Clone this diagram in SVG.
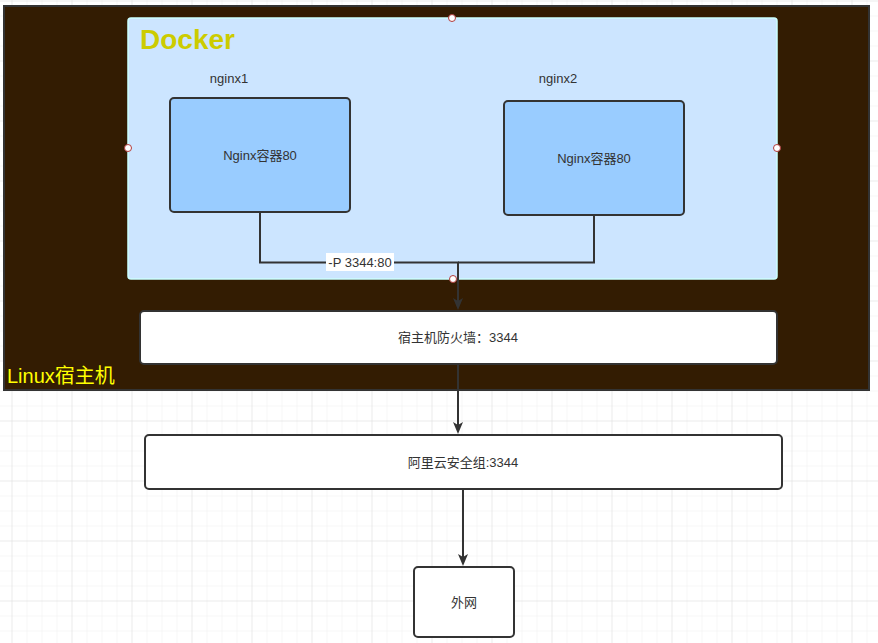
<svg xmlns="http://www.w3.org/2000/svg" width="878" height="643" viewBox="0 0 878 643">
<style>
.t{font-family:"Liberation Sans","Noto Sans CJK SC",sans-serif;font-size:13px;fill:#333333;text-anchor:middle}
.box{stroke:#333333;stroke-width:2}
.conn{fill:none;stroke:#333333;stroke-width:2}
.handle{fill:#ffffff;stroke:#b03a3a;stroke-width:1}
</style>
<defs>
<pattern id="minor" x="11.5" y="0.5" width="15" height="15" patternUnits="userSpaceOnUse">
<path d="M0,0 V15 M0,0 H15" fill="none" stroke="#efefef" stroke-width="1"/>
</pattern>
<pattern id="major" x="11.5" y="0.5" width="60" height="60" patternUnits="userSpaceOnUse">
<path d="M0,0 V60 M0,0 H60" fill="none" stroke="#e2e2e2" stroke-width="1"/>
</pattern>
<marker id="arrow" viewBox="0 0 12 10" refX="9" refY="5" markerWidth="12" markerHeight="10" markerUnits="userSpaceOnUse" orient="auto">
<path d="M0,0 L12,5 L0,10 L3,5 z" fill="#333333"/>
</marker>
</defs>
<rect width="878" height="643" fill="#ffffff"/>
<rect width="878" height="643" fill="url(#minor)"/>
<rect width="878" height="643" fill="url(#major)"/>

<g id="linux-host">
<rect x="4" y="6" width="865" height="384" fill="#331c02" stroke="#333333" stroke-width="2"/>
<text x="7" y="383" style="font-family:'Liberation Sans','Noto Sans CJK SC',sans-serif;font-size:20px;fill:#ffff00">Linux宿主机</text>
</g>

<g id="docker">
<rect x="128" y="18" width="649" height="261" rx="3" fill="#cce5ff" stroke="#ccffff" stroke-width="1.5"/>
<text x="140" y="49" style="font-family:'Liberation Sans',sans-serif;font-size:28px;font-weight:bold;fill:#cccc00">Docker</text>
</g>

<g id="nginx1">
<text class="t" x="229" y="83">nginx1</text>
<rect class="box" x="170" y="98" width="180" height="114" rx="4" fill="#99ccff"/>
<text class="t" x="260" y="160">Nginx容器80</text>
</g>

<g id="nginx2">
<text class="t" x="558" y="83">nginx2</text>
<rect class="box" x="504" y="101" width="180" height="114" rx="4" fill="#99ccff"/>
<text class="t" x="594" y="163">Nginx容器80</text>
</g>

<g id="firewall">
<rect class="box" x="140" y="311" width="637" height="53" rx="4" fill="#ffffff"/>
<text class="t" x="458" y="342">宿主机防火墙：3344</text>
</g>

<g id="aliyun">
<rect class="box" x="145" y="435" width="637" height="54" rx="4" fill="#ffffff"/>
<text class="t" x="463" y="467">阿里云安全组:3344</text>
</g>

<g id="internet">
<rect class="box" x="414" y="567" width="100" height="70" rx="4" fill="#ffffff"/>
<text class="t" x="464" y="607">外网</text>
</g>

<g id="connectors">
<path class="conn" d="M260,212 V262.5 H458 V307" marker-end="url(#arrow)"/>
<path class="conn" d="M594,215 V262.5 H458"/>
<rect x="326" y="253" width="68" height="18" fill="#ffffff"/>
<text class="t" x="360" y="267">-P 3344:80</text>
<path class="conn" d="M458,365 V431" marker-end="url(#arrow)"/>
<path class="conn" d="M463,490 V563" marker-end="url(#arrow)"/>
</g>

<g id="handles">
<circle class="handle" cx="452" cy="18" r="3.5"/>
<circle class="handle" cx="128" cy="148" r="3.5"/>
<circle class="handle" cx="777" cy="148" r="3.5"/>
<circle class="handle" cx="453" cy="279" r="3.5"/>
</g>
</svg>
